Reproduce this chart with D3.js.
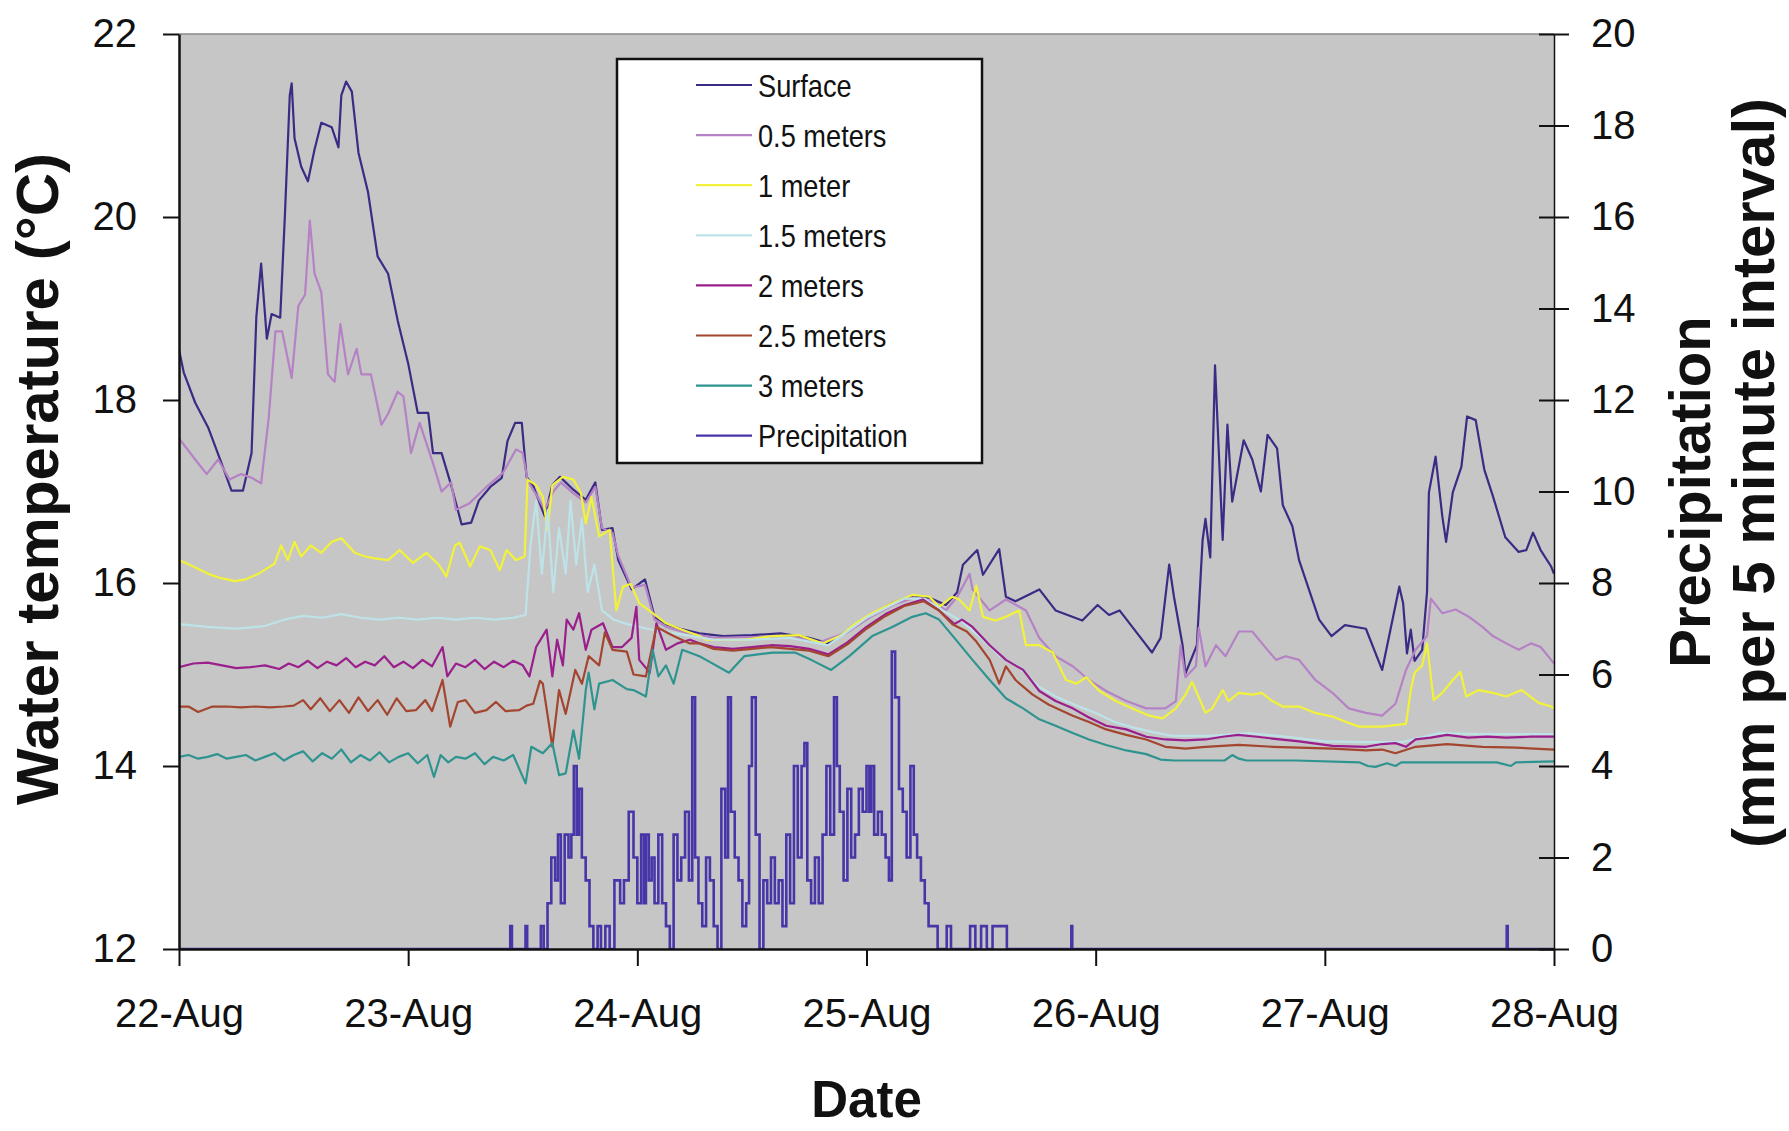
<!DOCTYPE html>
<html>
<head>
<meta charset="utf-8">
<script src="https://cdn.jsdelivr.net/npm/d3@7"></script>
<style>
  body { margin: 0; background: #fff; }
  text { font-family: "Liberation Sans", Arial, sans-serif; fill: #111; }
</style>
</head>
<body>
<svg id="chart"></svg>
<script>
// values: [hours after 22-Aug 00:00, value]
var surface = [[0,18.55],[0.5,18.3],[1.7,17.97],[3.05,17.7],[4.45,17.31],[5.5,17.01],[6.7,17.01],[7.6,17.42],[8.1,18.91],[8.6,19.49],[9.2,18.67],[9.7,18.94],[10.6,18.9],[11.1,20.04],[11.6,21.33],[11.8,21.46],[12.1,20.86],[12.8,20.55],[13.5,20.39],[14.2,20.74],[14.9,21.03],[16,20.98],[16.7,20.76],[17,21.33],[17.5,21.48],[18.1,21.37],[18.8,20.7],[19.8,20.27],[20.8,19.57],[21.9,19.38],[22.9,18.87],[24,18.4],[25,17.86],[26.1,17.86],[26.6,17.42],[27.5,17.42],[28.5,17.07],[29.6,16.64],[30.6,16.66],[31.4,16.9],[32.6,17.05],[33.8,17.15],[34.4,17.55],[35.2,17.75],[35.9,17.75],[36.4,17.16],[37.1,17.06],[38.3,16.73],[39.1,17.07],[39.9,17.16],[41.3,17.02],[42.6,16.91],[43.6,17.1],[44.3,16.58],[45.4,16.6],[46,16.25],[47.4,15.93],[48.8,16.04],[49.8,15.63],[51,15.55],[52.5,15.5],[54.5,15.45],[57,15.42],[60,15.43],[63,15.45],[66,15.4],[68,15.34],[70,15.48],[72.6,15.66],[74.7,15.78],[76.8,15.86],[78.6,15.84],[80.3,15.76],[81.5,15.9],[82.1,16.2],[83.6,16.36],[84.2,16.09],[85.9,16.37],[86.6,15.85],[87.6,15.8],[90.1,15.93],[91.8,15.7],[94.6,15.59],[96.2,15.76],[97.4,15.65],[98.5,15.7],[100.5,15.43],[101.9,15.24],[102.8,15.4],[103.7,16.2],[104.2,15.85],[105.1,15.32],[105.4,15.01],[106.6,15.32],[107.2,16.47],[107.5,16.7],[108,16.28],[108.5,18.38],[109.3,16.47],[109.8,17.73],[110.3,16.89],[111.5,17.56],[112.4,17.35],[113.3,17.0],[114,17.62],[115,17.47],[115.6,16.85],[116.6,16.62],[117.3,16.25],[119.4,15.6],[120.7,15.42],[122.1,15.54],[124.3,15.5],[126,15.05],[127.8,15.96],[128.2,15.78],[128.6,15.23],[129,15.49],[129.4,15.15],[130.2,15.27],[130.7,15.9],[130.9,16.99],[131.6,17.38],[132.3,16.73],[132.7,16.45],[133.4,16.99],[134.3,17.27],[134.9,17.82],[135.8,17.78],[136.7,17.24],[137.6,16.95],[138.9,16.5],[140.3,16.34],[141.1,16.36],[141.8,16.55],[142.6,16.36],[143.7,16.18],[144,16.1]];

var halfMeter = [[0,17.58],[1.7,17.35],[2.9,17.19],[4.1,17.35],[5.3,17.13],[6.5,17.19],[7.6,17.15],[8.6,17.09],[9.4,17.81],[10.1,18.75],[10.8,18.75],[11.8,18.24],[12.5,19.03],[13.2,19.15],[13.7,19.96],[14.2,19.38],[14.9,19.18],[15.6,18.28],[16.3,18.2],[16.9,18.83],[17.7,18.28],[18.6,18.56],[19.1,18.28],[20.1,18.28],[21.2,17.73],[21.9,17.85],[22.9,18.09],[23.5,18.04],[24.3,17.42],[25.2,17.75],[26.6,17.31],[27.5,17.0],[28.5,17.1],[29,16.8],[30.4,16.87],[32.2,17.05],[33.9,17.2],[35.3,17.46],[36,17.42],[36.5,17.12],[37.5,16.95],[38.3,16.8],[39.2,17.0],[40,17.1],[41.3,16.98],[42.6,16.88],[43.6,17.05],[44.3,16.6],[45.4,16.55],[46,16.3],[47.4,15.95],[48.8,15.98],[49.8,15.6],[51,15.52],[53,15.46],[56,15.4],[60,15.41],[64,15.42],[67,15.35],[70,15.46],[72.6,15.64],[75,15.77],[77,15.84],[79,15.8],[80.3,15.7],[81.5,15.85],[82.8,16.1],[83.1,15.93],[84.9,15.7],[86.6,15.82],[88.7,15.7],[90.1,15.4],[91.8,15.2],[93.6,15.09],[95.3,14.94],[97.1,14.82],[99.2,14.71],[101.3,14.63],[103.3,14.63],[104.4,14.71],[104.9,15.32],[105.4,14.97],[106.5,15.09],[106.8,15.51],[107.5,15.09],[108.6,15.32],[109.6,15.2],[111,15.47],[112.4,15.47],[113.9,15.28],[114.9,15.16],[115.9,15.2],[117.3,15.16],[119,14.94],[120.8,14.8],[122.5,14.63],[124.3,14.58],[126,14.55],[127.4,14.68],[128.5,15.05],[129.5,15.27],[130.7,15.42],[131.1,15.83],[132.3,15.67],[133.7,15.71],[135.1,15.63],[136.5,15.52],[137.6,15.42],[139,15.34],[140.3,15.27],[141.6,15.34],[142.6,15.3],[143.7,15.16],[144,15.12]];

var oneMeter = [[0,16.25],[1.5,16.18],[3.05,16.1],[4.5,16.05],[5.85,16.02],[7,16.04],[8.3,16.1],[10,16.21],[10.7,16.41],[11.4,16.25],[12.1,16.45],[12.8,16.29],[13.8,16.41],[14.9,16.33],[16,16.45],[17,16.49],[18.4,16.33],[19.5,16.29],[20.5,16.27],[21.9,16.25],[23.1,16.36],[24.5,16.22],[25.9,16.33],[27.2,16.2],[28,16.07],[28.9,16.41],[29.4,16.44],[30.5,16.18],[31.5,16.4],[32.6,16.36],[33.6,16.14],[34.3,16.36],[35.3,16.25],[36.2,16.29],[36.5,17.13],[37.4,17.07],[38.1,16.94],[38.6,16.58],[39.1,17.07],[40.2,17.16],[41.3,17.13],[42.1,16.98],[42.6,16.65],[43.2,16.94],[44,16.51],[45.1,16.58],[45.8,15.7],[46.5,15.96],[47.3,15.99],[48.2,15.78],[49.6,15.67],[51,15.56],[52.7,15.49],[54.5,15.42],[55.2,15.38],[59.2,15.38],[62.2,15.42],[64.9,15.43],[67.4,15.34],[69.2,15.42],[70.9,15.56],[72.6,15.67],[74.7,15.78],[76.8,15.87],[78.6,15.85],[79.6,15.74],[81,15.85],[81.7,15.82],[82.8,15.7],[83.5,15.97],[84.2,15.63],[85.5,15.59],[86.6,15.63],[88,15.7],[88.7,15.32],[90.1,15.32],[91.5,15.24],[92.9,14.94],[94,14.9],[95,14.97],[96.4,14.82],[98.1,14.71],[99.8,14.63],[101.6,14.55],[103,14.52],[104.4,14.63],[105.4,14.78],[106.1,14.92],[106.6,14.8],[107.5,14.58],[108.2,14.63],[109.3,14.83],[109.9,14.71],[111,14.8],[112.4,14.78],[113.4,14.8],[114.5,14.71],[115.6,14.65],[117.3,14.65],[119,14.58],[120.8,14.54],[122.5,14.47],[123.6,14.43],[126,14.43],[128.5,14.46],[129,14.83],[129.4,15.02],[130.2,15.1],[130.7,15.34],[131.1,14.98],[131.4,14.72],[132.3,14.8],[133.4,14.94],[134.2,15.03],[134.8,14.76],[136.1,14.83],[137.6,14.8],[139,14.76],[140.6,14.83],[142.4,14.69],[143.7,14.65],[144,14.63]];

var oneHalfMeter = [[0,15.55],[3,15.52],[6,15.5],[9,15.53],[11,15.6],[13,15.64],[15,15.62],[17,15.66],[19,15.62],[21,15.6],[23,15.62],[25,15.6],[27,15.62],[29,15.6],[31,15.62],[33,15.6],[35,15.62],[36.3,15.65],[36.8,16.4],[37.4,16.9],[38,16.1],[38.6,16.8],[39.2,15.9],[39.8,16.6],[40.5,16.1],[41,16.9],[41.6,16.2],[42.2,16.7],[42.8,15.9],[43.5,16.2],[44.3,15.7],[45.5,15.6],[47,15.55],[49,15.5],[52,15.45],[56,15.38],[60,15.38],[64,15.4],[68,15.32],[72,15.62],[76,15.83],[78,15.83],[80,15.7],[82,15.58],[84,15.4],[86,15.2],[88,15.08],[90,14.87],[92,14.75],[94,14.66],[96,14.58],[98,14.48],[100,14.42],[102,14.37],[104,14.33],[108,14.33],[112,14.36],[116,14.32],[120,14.27],[124,14.26],[128,14.26],[132,14.36],[136,14.35],[140,14.35],[144,14.35]];

var twoMeter = [[0,15.08],[1.5,15.12],[3,15.13],[4.5,15.1],[6,15.07],[7.5,15.08],[9,15.1],[10.5,15.06],[11.5,15.12],[12.5,15.08],[13.5,15.15],[14.5,15.07],[15.5,15.14],[16.5,15.1],[17.5,15.18],[18.5,15.08],[19.5,15.14],[20.5,15.1],[21.5,15.2],[22.5,15.08],[23.5,15.14],[24.5,15.07],[25.5,15.16],[26.5,15.09],[27.6,15.3],[28.1,14.98],[29,15.12],[30,15.08],[31,15.16],[32,15.06],[33,15.14],[34,15.08],[35,15.15],[36,15.1],[36.7,14.98],[37.4,15.3],[38.5,15.49],[39.1,14.98],[39.6,15.38],[40.2,15.1],[40.6,15.6],[41.3,15.49],[41.9,15.67],[42.6,15.27],[43.2,15.49],[44.4,15.56],[45.4,15.3],[46.4,15.3],[47.4,15.4],[47.9,15.74],[48.2,15.16],[49.3,15.02],[50,15.56],[51,15.27],[52.2,15.34],[53.5,15.38],[54.5,15.34],[56,15.3],[58,15.28],[60,15.3],[62,15.32],[64,15.31],[66,15.28],[68,15.22],[70,15.35],[72,15.52],[74,15.66],[76,15.76],[77.9,15.82],[79.6,15.7],[81.2,15.55],[82,15.6],[83.1,15.52],[84.9,15.32],[86.6,15.16],[88.4,15.05],[90.1,14.82],[91.8,14.71],[93.6,14.63],[95.3,14.53],[97.1,14.44],[99.2,14.4],[101.3,14.32],[103.3,14.29],[105.4,14.28],[107.5,14.29],[109.3,14.32],[110.9,14.34],[112.9,14.32],[114.5,14.3],[117.3,14.27],[120.8,14.22],[124.3,14.21],[126,14.24],[127.4,14.25],[128.5,14.21],[129.5,14.29],[131.1,14.31],[132.8,14.34],[135,14.31],[137,14.32],[139,14.31],[141.6,14.32],[144,14.32]];

var twoHalfMeter = [[0,14.65],[1,14.65],[2,14.59],[3.5,14.65],[5,14.65],[6.5,14.64],[8,14.65],[9.5,14.64],[11,14.65],[12,14.66],[13,14.72],[13.8,14.62],[14.8,14.74],[15.8,14.6],[16.8,14.72],[17.8,14.58],[18.8,14.75],[19.8,14.6],[20.8,14.72],[21.8,14.56],[22.8,14.74],[23.8,14.6],[24.8,14.61],[25.8,14.72],[26.5,14.6],[27.6,14.94],[28.4,14.43],[29.2,14.7],[30,14.72],[31,14.58],[32.2,14.61],[33.2,14.7],[34.2,14.6],[35.6,14.61],[36.4,14.66],[37.1,14.68],[37.8,14.93],[38.1,14.9],[39.1,14.21],[39.8,14.83],[40.5,14.57],[41.5,15.05],[42.2,14.9],[42.9,15.2],[44,15.1],[44.6,15.46],[45.4,15.27],[46.9,15.25],[47.6,15.0],[48.9,14.98],[50,15.52],[51.8,15.42],[53.5,15.34],[54.5,15.34],[56,15.28],[58,15.26],[60,15.28],[62,15.3],[64,15.28],[66,15.26],[68,15.2],[70,15.33],[72,15.5],[74,15.64],[76,15.75],[78,15.8],[79.6,15.7],[81,15.55],[82.5,15.47],[83.5,15.36],[84.9,15.16],[85.9,14.9],[86.6,15.09],[87.6,14.94],[89.4,14.78],[91.1,14.67],[93.6,14.55],[95.3,14.48],[97.1,14.4],[99.2,14.34],[101.3,14.29],[103.3,14.21],[105.4,14.19],[107.5,14.21],[111,14.23],[114.5,14.21],[117.3,14.2],[120.8,14.19],[124.3,14.17],[126,14.18],[127.4,14.14],[129.5,14.21],[132.8,14.24],[136.5,14.21],[140,14.2],[144,14.18]];

var threeMeter = [[0,14.1],[1,14.12],[2,14.08],[3,14.1],[4,14.13],[5,14.08],[6,14.1],[7,14.12],[8,14.06],[9,14.1],[10,14.14],[11,14.06],[12,14.12],[13,14.16],[14,14.05],[15,14.14],[16,14.08],[17,14.18],[18,14.04],[19,14.12],[20,14.06],[21,14.15],[22,14.04],[23,14.1],[24,14.14],[25,14.03],[26,14.12],[26.7,13.88],[27.4,14.12],[28.2,14.04],[29,14.1],[30,14.08],[31,14.14],[32,14.02],[32.9,14.1],[34,14.06],[35,14.12],[36.3,13.81],[36.9,14.21],[38.1,14.14],[39.1,14.25],[39.8,13.9],[40.5,13.92],[41.3,14.39],[41.9,14.08],[42.6,14.83],[42.9,15.02],[43.5,14.62],[44,14.9],[45.4,14.94],[46.9,14.84],[47.6,14.83],[48.9,14.76],[49.6,15.27],[50.2,14.98],[51,15.1],[51.8,14.9],[52.7,15.27],[54.5,15.2],[55.2,15.16],[57.6,15.02],[59.2,15.2],[62.2,15.24],[64.5,15.24],[66.2,15.16],[68.3,15.05],[70.2,15.2],[72.6,15.42],[74.7,15.52],[76.8,15.63],[78.2,15.67],[79.6,15.6],[81.2,15.4],[83.1,15.16],[84.9,14.94],[86.6,14.74],[88.4,14.63],[90.1,14.51],[91.8,14.44],[93.6,14.36],[95.3,14.29],[97.1,14.23],[99.2,14.17],[101.3,14.13],[102.8,14.07],[104.2,14.06],[108,14.06],[109.5,14.06],[110.3,14.12],[111,14.08],[111.8,14.06],[117,14.06],[123.6,14.04],[124.5,14.0],[125.3,13.99],[126.5,14.03],[127.4,14.0],[128,14.04],[133,14.04],[138,14.04],[139.5,14.0],[140,14.04],[144,14.05]];

// mm per 5 minute interval
var precipitation = [[0,0],[34.6,0],[34.78,0.5],[34.95,0],[36.2,0],[36.38,0.5],[36.55,0],[37.8,0],[37.99,0.5],[38.4,0],[38.79,1.0],[39.19,2.0],[39.59,1.5],[39.79,2.5],[40.19,1.0],[40.59,2.5],[40.99,2.0],[41.19,2.5],[41.51,4.0],[41.79,2.5],[41.99,3.5],[42.39,2.0],[42.79,1.5],[43.19,0.5],[43.6,0],[44.08,0.5],[44.3,0],[45.0,0.5],[45.2,0],[46.0,1.5],[46.4,1.0],[46.8,1.5],[47.4,3.0],[47.8,2.0],[48.2,1.0],[48.6,2.5],[48.8,1.0],[49.0,2.5],[49.4,1.5],[49.6,2.0],[50.0,1.0],[50.4,2.5],[50.8,1.0],[51.2,0.5],[51.6,0],[52.0,2.5],[52.4,1.5],[52.8,2.0],[53.2,3.0],[53.6,1.5],[53.9,5.5],[54.2,2.0],[54.6,1.0],[55.0,0.5],[55.4,2.0],[55.8,1.5],[56.2,0.5],[56.6,0],[57.0,3.5],[57.4,2.0],[57.6,5.5],[58.0,3.0],[58.4,2.0],[58.8,1.5],[59.2,0.5],[59.6,1.0],[59.8,4.0],[60.2,5.5],[60.6,2.5],[61.0,0],[61.4,1.5],[61.8,1.0],[62.2,2.0],[62.6,1.0],[63.0,1.5],[63.4,0.5],[63.8,2.5],[64.2,1.0],[64.6,4.0],[65.0,2.0],[65.4,4.0],[65.6,4.5],[66.0,1.5],[66.4,1.0],[66.8,2.0],[67.2,1.0],[67.6,2.5],[68.0,4.0],[68.4,2.5],[68.8,5.5],[69.0,4.0],[69.4,3.0],[69.8,1.5],[70.2,3.5],[70.6,2.0],[71.0,2.5],[71.4,3.5],[71.8,3.0],[72.2,4.0],[72.4,3.0],[72.6,4.0],[73.0,2.5],[73.4,3.0],[73.8,2.5],[74.2,2.0],[74.5,1.5],[74.8,6.5],[75.2,5.5],[75.6,3.5],[76.0,3.0],[76.4,2.0],[76.8,4.0],[77.1,2.5],[77.5,2.0],[77.9,1.5],[78.3,1.0],[78.7,0.5],[79.3,0.5],[79.6,0],[80.1,0],[80.7,0.5],[81.0,0],[82.6,0],[83.1,0.5],[83.7,0],[84.3,0.5],[84.9,0],[85.5,0.5],[86.3,0.5],[87.1,0],[93.4,0],[93.5,0.5],[93.6,0],[139.0,0],[139.1,0.5],[139.2,0],[144,0]];

var seriesNames = ["Surface", "0.5 meters", "1 meter", "1.5 meters", "2 meters", "2.5 meters", "3 meters", "Precipitation"];
var seriesColors = ["#3b2b85", "#b582c5", "#f2f23a", "#bde3e8", "#9a1f8c", "#a3452f", "#2f9490", "#4636a8"];
var tempTicks = [12, 14, 16, 18, 20, 22];
var precipTicks = [0, 2, 4, 6, 8, 10, 12, 14, 16, 18, 20];

var width = 1789, height = 1131;
var margin = { top: 34, left: 179, right: 235, bottom: 182 };
var start = new Date(2006, 7, 22);
function toDate(h) { return new Date(start.getTime() + h * 3600000); }

var svg = d3.select("#chart").attr("width", width).attr("height", height);

var x = d3.scaleTime()
          .domain([start, d3.timeDay.offset(start, 6)])
          .range([margin.left, width - margin.right]);
var yT = d3.scaleLinear().domain([12, 22]).range([height - margin.bottom, margin.top]);
var yP = d3.scaleLinear().domain([0, 20]).range([height - margin.bottom, margin.top]);

// plot area
svg.append("rect")
   .attr("x", x.range()[0]).attr("y", margin.top)
   .attr("width", x.range()[1] - x.range()[0])
   .attr("height", yT.range()[0] - margin.top)
   .attr("fill", "#c6c6c6");
svg.append("line")
   .attr("x1", x.range()[0]).attr("x2", x.range()[1])
   .attr("y1", margin.top).attr("y2", margin.top)
   .attr("stroke", "#8a8a8a").attr("stroke-width", 1.5);

svg.append("clipPath").attr("id", "clip")
   .append("rect")
   .attr("x", x.range()[0]).attr("y", margin.top)
   .attr("width", x.range()[1] - x.range()[0])
   .attr("height", yT.range()[0] - margin.top);

var plot = svg.append("g").attr("clip-path", "url(#clip)");

var tempLine = d3.line()
                 .x(function(d) { return x(toDate(d[0])); })
                 .y(function(d) { return yT(d[1]); });
var precipLine = d3.line()
                   .curve(d3.curveStep)
                   .x(function(d) { return x(toDate(d[0])); })
                   .y(function(d) { return yP(d[1]); });

var tempSeries = [surface, halfMeter, oneMeter, oneHalfMeter, twoMeter, twoHalfMeter, threeMeter];
tempSeries.forEach(function(s, i) {
    plot.append("path")
        .datum(s)
        .attr("fill", "none")
        .attr("stroke", seriesColors[i])
        .attr("stroke-width", 2.2)
        .attr("stroke-linejoin", "round")
        .attr("d", tempLine);
});
plot.append("path")
    .datum(precipitation)
    .attr("fill", "none")
    .attr("stroke", seriesColors[7])
    .attr("stroke-width", 2.6)
    .attr("d", precipLine);

// axes
var left = svg.append("g")
              .attr("transform", "translate(" + margin.left + ",0)")
              .call(d3.axisLeft(yT).tickValues(tempTicks).tickSize(16).tickSizeOuter(0).tickPadding(26));
var bottom = svg.append("g")
                .attr("transform", "translate(0," + yT.range()[0] + ")")
                .call(d3.axisBottom(x).ticks(d3.timeDay.every(1))
                        .tickFormat(d3.timeFormat("%-d-%b"))
                        .tickSize(17).tickSizeOuter(0).tickPadding(33));
var right = svg.append("g")
               .attr("transform", "translate(" + x.range()[1] + ",0)")
               .call(d3.axisRight(yP).tickValues(precipTicks).tickSize(15).tickSizeOuter(0).tickPadding(22));
right.selectAll(".tick line").attr("x1", -15);

[left, bottom, right].forEach(function(a) {
    a.selectAll("text").style("font-size", "40px").style("fill", "#111")
     .style("font-family", "'Liberation Sans', Arial, sans-serif");
    a.selectAll("line").attr("stroke", "#111").attr("stroke-width", 2);
    a.select(".domain").attr("stroke", "#111").attr("stroke-width", 2.5);
});
right.select(".domain").attr("stroke-width", 1.5);

// titles
svg.append("text")
   .attr("transform", "translate(58,479) rotate(-90)")
   .attr("text-anchor", "middle")
   .style("font-size", "60px").style("font-weight", "bold")
   .text("Water temperature (°C)");
svg.append("text")
   .attr("transform", "translate(1710,492) rotate(-90)")
   .attr("text-anchor", "middle")
   .style("font-size", "58px").style("font-weight", "bold")
   .text("Precipitation");
svg.append("text")
   .attr("transform", "translate(1774,473) rotate(-90)")
   .attr("text-anchor", "middle")
   .style("font-size", "60px").style("font-weight", "bold")
   .text("(mm per 5 minute interval)");
svg.append("text")
   .attr("x", (x.range()[0] + x.range()[1]) / 2)
   .attr("y", 1117)
   .attr("text-anchor", "middle")
   .style("font-size", "51px").style("font-weight", "bold")
   .text("Date");

// legend
var legend = svg.append("g").attr("class", "legend");
legend.append("rect")
      .attr("x", 617).attr("y", 59).attr("width", 365).attr("height", 404)
      .attr("fill", "#fff").attr("stroke", "#111").attr("stroke-width", 2.5);
var item = legend.selectAll(".item")
                 .data(seriesNames)
                 .enter().append("g")
                 .attr("class", "item")
                 .attr("transform", function(d, i) { return "translate(0," + (85 + i * 50.1) + ")"; });
item.append("line")
    .attr("x1", 696).attr("x2", 752)
    .attr("stroke", function(d, i) { return seriesColors[i]; })
    .attr("stroke-width", 2.2);
item.append("text")
    .attr("transform", "translate(758,0) scale(0.85,1)")
    .attr("dy", "0.36em")
    .style("font-size", "32px")
    .text(function(d) { return d; });
</script>
</body>
</html>
